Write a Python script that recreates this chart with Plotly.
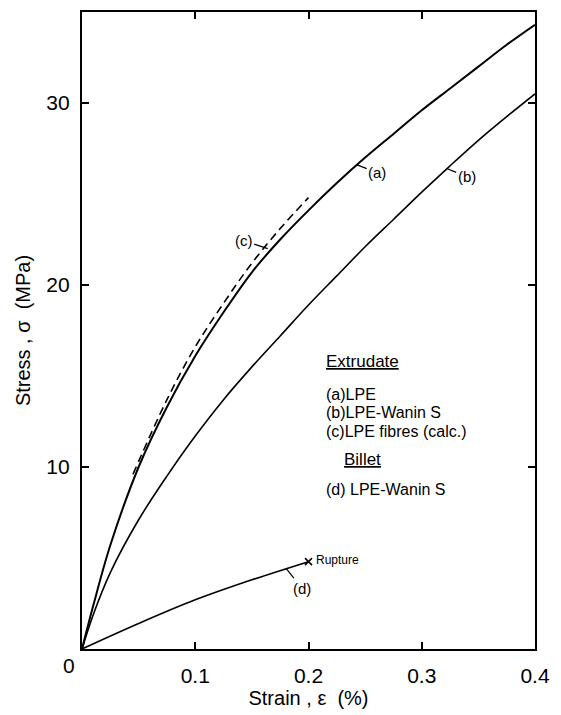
import plotly.graph_objects as go

# Curve (a) LPE extrudate
strain_a = [0, 0.01, 0.025, 0.05, 0.075, 0.1, 0.125, 0.15, 0.175, 0.2, 0.225, 0.25, 0.275, 0.3, 0.325, 0.35, 0.375, 0.4]
stress_a = [0, 2.4, 5.7, 10.0, 13.3, 16.1, 18.5, 20.7, 22.5, 24.1, 25.6, 27.0, 28.3, 29.6, 30.8, 32.0, 33.2, 34.3]
# Curve (b) LPE-Wanin S extrudate
strain_b = [0, 0.01, 0.025, 0.05, 0.075, 0.1, 0.125, 0.15, 0.175, 0.2, 0.225, 0.25, 0.275, 0.3, 0.325, 0.35, 0.375, 0.4]
stress_b = [0, 1.9, 4.2, 7.1, 9.5, 11.7, 13.7, 15.5, 17.2, 18.9, 20.5, 22.1, 23.6, 25.1, 26.55, 27.95, 29.25, 30.5]
# Curve (c) LPE fibres (calc.)
strain_c = [0.045, 0.075, 0.1, 0.125, 0.15, 0.175, 0.2]
stress_c = [9.6, 13.7, 16.6, 19.0, 21.2, 23.1, 24.8]
# Curve (d) billet LPE-Wanin S
strain_d = [0, 0.05, 0.1, 0.15, 0.2]
stress_d = [0, 1.4, 2.7, 3.8, 4.8]

x_ticks = [0, 0.1, 0.2, 0.3, 0.4]
x_ticktext = ["", "0.1", "0.2", "0.3", "0.4"]
y_ticks = [0, 10, 20, 30]
y_ticktext = ["", "10", "20", "30"]

FONT = "Liberation Sans, Arial, sans-serif"

fig = go.Figure()
fig.add_trace(go.Scatter(x=strain_a, y=stress_a, mode="lines", line=dict(color="black", width=2, shape="spline"), showlegend=False))
fig.add_trace(go.Scatter(x=strain_b, y=stress_b, mode="lines", line=dict(color="black", width=1.6, shape="spline"), showlegend=False))
fig.add_trace(go.Scatter(x=strain_c, y=stress_c, mode="lines", line=dict(color="black", width=1.6, dash="8px,5px", shape="spline"), showlegend=False))
fig.add_trace(go.Scatter(x=strain_d, y=stress_d, mode="lines", line=dict(color="black", width=1.6, shape="spline"), showlegend=False))
fig.add_trace(go.Scatter(x=[strain_d[-1]], y=[stress_d[-1]], mode="markers",
                         marker=dict(symbol="x-thin", size=7, line=dict(color="black", width=1.5)), showlegend=False))

ann = []
def ptr(x, y, text, ax, ay):
    ann.append(dict(x=x, y=y, xref="x", yref="y", text=text, showarrow=True, arrowhead=0,
                    arrowwidth=1.2, arrowcolor="black", ax=ax, ay=ay, standoff=0,
                    font=dict(family=FONT, size=15, color="black")))

ptr(0.243, 26.6, "(a)", 20, 8)
ptr(0.322, 26.4, "(b)", 20, 8)
ptr(0.164, 22.0, "(c)", -24, -8)
ptr(0.18, 4.45, "(d)", 16, 20)

ann.append(dict(x=strain_d[-1], y=stress_d[-1], xref="x", yref="y", text="Rupture", showarrow=False,
                xanchor="left", yanchor="middle", xshift=5, yshift=2,
                font=dict(family=FONT, size=12, color="black")))
ann.append(dict(x=0, y=0, xref="x", yref="y", text="0", showarrow=False,
                xanchor="center", yanchor="middle", xshift=-13, yshift=-16,
                font=dict(family=FONT, size=21, color="black")))

legend_lines = [
    ("<u>Extrudate</u>", 0.62, 0.452, "center", 17),
    ("(a)LPE", 0.535, 0.400, "left", 16),
    ("(b)LPE-Wanin S", 0.535, 0.371, "left", 16),
    ("(c)LPE fibres (calc.)", 0.535, 0.342, "left", 16),
    ("<u>Billet</u>", 0.62, 0.297, "center", 17),
    ("(d) LPE-Wanin S", 0.535, 0.250, "left", 16),
]
for t, xp, yp, xa, fs in legend_lines:
    ann.append(dict(x=xp, y=yp, xref="paper", yref="paper", text=t, showarrow=False,
                    xanchor=xa, yanchor="middle", font=dict(family=FONT, size=fs, color="black")))

fig.update_layout(
    width=561, height=715,
    margin=dict(l=82, r=26, t=10, b=64),
    paper_bgcolor="white", plot_bgcolor="white",
    font=dict(family=FONT, color="black"),
    annotations=ann,
    xaxis=dict(range=[0, 0.4], tickvals=x_ticks, ticktext=x_ticktext, ticks="inside", ticklen=7,
               tickwidth=2, tickcolor="black", showline=True, linecolor="black", linewidth=2.2,
               mirror="ticks", showgrid=False, zeroline=False, ticklabelstandoff=7,
               tickfont=dict(size=21, family=FONT),
               title=dict(text="Strain , ε  (%)", font=dict(size=20, family=FONT), standoff=4)),
    yaxis=dict(range=[0, 35], tickvals=y_ticks, ticktext=y_ticktext, ticks="inside", ticklen=7,
               tickwidth=2, tickcolor="black", showline=True, linecolor="black", linewidth=2.2,
               mirror="ticks", showgrid=False, zeroline=False, ticklabelstandoff=6,
               tickfont=dict(size=21, family=FONT),
               title=dict(text="Stress , σ  (MPa)", font=dict(size=20, family=FONT), standoff=10)),
)

fig.write_html("out.html")
